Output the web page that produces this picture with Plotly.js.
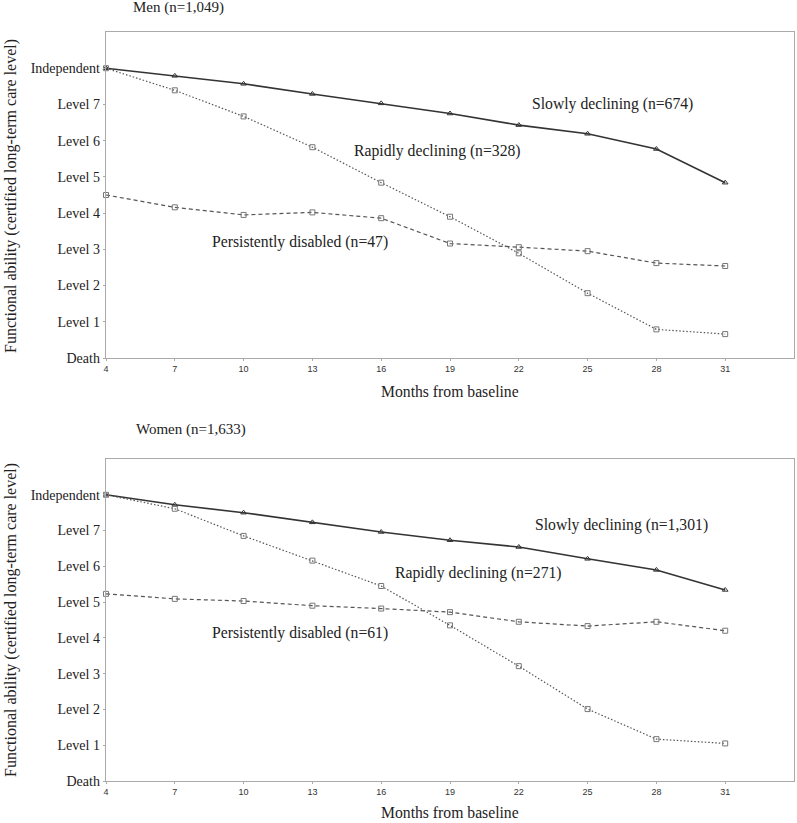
<!DOCTYPE html>
<html>
<head>
<meta charset="utf-8">
<script src="https://cdn.plot.ly/plotly-3.0.1.min.js"></script>
<style>html,body{margin:0;padding:0;background:#fff;}#chart{width:797px;height:823px;}</style>
</head>
<body>
<div id="chart"></div>
<script>
// ---- data ----
const months = [4, 7, 10, 13, 16, 19, 22, 25, 28, 31];
const levelTickVals = [0, 1, 2, 3, 4, 5, 6, 7, 8];
const levelTickText = ["Death", "Level 1", "Level 2", "Level 3", "Level 4", "Level 5", "Level 6", "Level 7", "Independent"];

const menSlow    = [8.00, 7.79, 7.57, 7.29, 7.03, 6.75, 6.43, 6.19, 5.77, 4.84];
const menRapid   = [8.00, 7.39, 6.67, 5.82, 4.84, 3.90, 2.89, 1.79, 0.79, 0.66];
const menPersist = [4.50, 4.16, 3.95, 4.02, 3.86, 3.16, 3.06, 2.95, 2.62, 2.54];

const womenSlow    = [8.00, 7.72, 7.50, 7.23, 6.96, 6.73, 6.54, 6.21, 5.90, 5.34];
const womenRapid   = [8.00, 7.61, 6.85, 6.16, 5.45, 4.35, 3.21, 2.01, 1.17, 1.05];
const womenPersist = [5.23, 5.09, 5.03, 4.90, 4.82, 4.72, 4.45, 4.33, 4.45, 4.20];

const menLabels = ["Slowly declining (n=674)", "Rapidly declining (n=328)", "Persistently disabled (n=47)"];
const womenLabels = ["Slowly declining (n=1,301)", "Rapidly declining (n=271)", "Persistently disabled (n=61)"];
const panelTitles = ["Men (n=1,049)", "Women (n=1,633)"];
const xTitle = "Months from baseline";
const yTitle = "Functional ability (certified long-term care level)";

// ---- styling ----
const W = 797, H = 823, L = 106, R = 3;
const serif = "Liberation Serif, Times New Roman, serif";
const sans = "Liberation Sans, Arial, sans-serif";
function px(x, y) { return { x: (x - L) / (W - L - R), y: 1 - y / H }; }

function slowTrace(y, ax) {
  return { x: months, y: y, xaxis: ax.x, yaxis: ax.y, type: 'scatter', mode: 'lines+markers', cliponaxis: false,
    line: { color: '#333', width: 1.6 }, marker: { symbol: 'triangle-up-open', size: 5, color: '#333', line: { width: 1 } }, showlegend: false };
}
function rapidTrace(y, ax) {
  return { x: months, y: y, xaxis: ax.x, yaxis: ax.y, type: 'scatter', mode: 'lines+markers', cliponaxis: false,
    line: { color: '#555', width: 1.2, dash: '1.5px,2px' }, marker: { symbol: 'square-open', size: 5, color: '#777', line: { width: 1 } }, showlegend: false };
}
function persistTrace(y, ax) {
  return { x: months, y: y, xaxis: ax.x, yaxis: ax.y, type: 'scatter', mode: 'lines+markers', cliponaxis: false,
    line: { color: '#555', width: 1.2, dash: '4px,3px' }, marker: { symbol: 'square-open', size: 5, color: '#777', line: { width: 1 } }, showlegend: false };
}

const axTop = { x: 'x', y: 'y' }, axBot = { x: 'x2', y: 'y2' };
const data = [
  slowTrace(menSlow, axTop), rapidTrace(menRapid, axTop), persistTrace(menPersist, axTop),
  slowTrace(womenSlow, axBot), rapidTrace(womenRapid, axBot), persistTrace(womenPersist, axBot)
];

function xax(anchor) {
  return { anchor: anchor, domain: [0, 1], range: [4, 34], tickvals: months, ticktext: months.map(String),
    showgrid: false, zeroline: false, showline: true, linecolor: '#aaa', linewidth: 1.3, mirror: true,
    ticks: 'outside', ticklen: 2, tickcolor: '#aaa', tickfont: { family: sans, size: 9, color: '#333' } };
}
function yax(anchor, dom) {
  return { anchor: anchor, domain: dom, range: [0, 9], tickvals: levelTickVals, ticktext: levelTickText,
    showgrid: false, zeroline: false, showline: true, linecolor: '#aaa', linewidth: 1.3, mirror: true,
    ticks: 'outside', ticklen: 2, tickcolor: '#aaa', tickfont: { family: serif, size: 14, color: '#222' } };
}

function ann(text, x, y, size, opts) {
  const p = px(x, y);
  return Object.assign({ text: text, xref: 'paper', yref: 'paper', x: p.x, y: p.y, xanchor: 'center', yanchor: 'middle',
    showarrow: false, font: { family: serif, size: size, color: '#222' } }, opts || {});
}

const annotations = [
  ann(panelTitles[0], 178, 8, 15),
  ann(panelTitles[1], 191, 430, 15),
  ann(xTitle, 450, 391, 15.7),
  ann(xTitle, 450, 812, 15.7),
  ann(yTitle, 11, 196, 16, { textangle: -90 }),
  ann(yTitle, 11, 620, 16, { textangle: -90 }),
  ann(menLabels[0], 612, 104, 15.7),
  ann(menLabels[1], 437, 151, 15.7),
  ann(menLabels[2], 300, 242, 15.7),
  ann(womenLabels[0], 621, 525, 15.7),
  ann(womenLabels[1], 478, 573, 15.7),
  ann(womenLabels[2], 300, 633, 15.7)
];

const layout = {
  width: W, height: H,
  margin: { l: L, r: R, t: 0, b: 0 },
  paper_bgcolor: '#fff', plot_bgcolor: '#fff',
  xaxis: xax('y'),
  yaxis: yax('x', [1 - 358 / H, 1 - 32 / H]),
  xaxis2: xax('y2'),
  yaxis2: yax('x2', [1 - 781 / H, 1 - 459 / H]),
  annotations: annotations,
  showlegend: false
};

Plotly.newPlot('chart', data, layout, { displayModeBar: false, staticPlot: true });
</script>
</body>
</html>
